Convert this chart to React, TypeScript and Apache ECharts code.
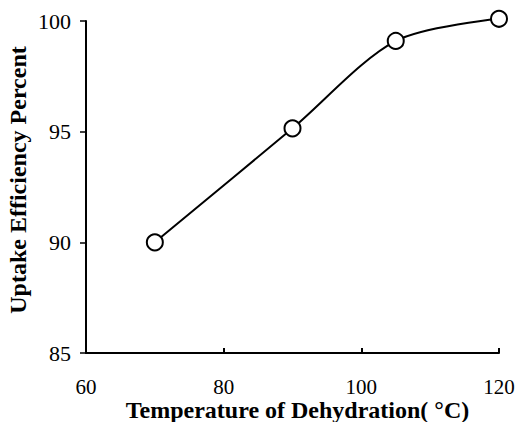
import React, { useEffect, useRef } from "react";
import * as echarts from "echarts";

const temperatures = [70, 90, 105, 120];
const efficiency = [90.0, 95.15, 99.1, 100.1];
const xTicks = [60, 80, 100, 120];
const yTicks = [85, 90, 95, 100];

export default function App() {
  const ref = useRef<HTMLDivElement>(null);
  useEffect(() => {
    if (!ref.current) return;
    const chart = echarts.init(ref.current, null, { renderer: "svg" });
    const font = "'Liberation Serif', 'Times New Roman', serif";
    chart.setOption({
      animation: false,
      backgroundColor: "#ffffff",
      grid: { left: 86, right: 21, top: 21, bottom: 69, containLabel: false, outerBoundsMode: "none" },
      xAxis: {
        type: "value",
        min: xTicks[0],
        max: xTicks[xTicks.length - 1],
        interval: 20,
        name: "Temperature of Dehydration( °C)",
        nameLocation: "middle",
        nameGap: 45,
        nameMoveOverlap: false,
        nameTextStyle: { fontFamily: font, fontSize: 24, fontWeight: "bold", color: "#000", padding: [0, 0, 0, 10] },
        axisLine: { lineStyle: { color: "#000", width: 2 } },
        axisTick: { inside: true, length: 5, lineStyle: { color: "#000", width: 2 } },
        axisLabel: { fontFamily: font, fontSize: 21, color: "#000", margin: 23 },
        splitLine: { show: false },
      },
      yAxis: {
        type: "value",
        min: yTicks[0],
        max: yTicks[yTicks.length - 1],
        interval: 5,
        name: "Uptake Efficiency Percent",
        nameLocation: "middle",
        nameGap: 56,
        nameMoveOverlap: false,
        nameTextStyle: { fontFamily: font, fontSize: 24, fontWeight: "bold", color: "#000", padding: [0, 0, 0, 14] },
        axisLine: { show: true, lineStyle: { color: "#000", width: 2 } },
        axisTick: { show: true, inside: false, length: 6, lineStyle: { color: "#000", width: 1.5 } },
        axisLabel: { fontFamily: font, fontSize: 22, color: "#000", margin: 15 },
        splitLine: { show: false },
      },
      series: [
        {
          type: "line",
          data: temperatures.map((t, i) => [t, efficiency[i]]),
          smooth: 0.3,
          clip: false,
          symbol: "circle",
          symbolSize: 16,
          itemStyle: { color: "#ffffff", borderColor: "#000", borderWidth: 2 },
          lineStyle: { color: "#000", width: 2 },
        },
      ],
    });
    return () => chart.dispose();
  }, []);
  return <div ref={ref} style={{ width: 520, height: 422, position: "absolute", left: 0, top: 0 }} />;
}
